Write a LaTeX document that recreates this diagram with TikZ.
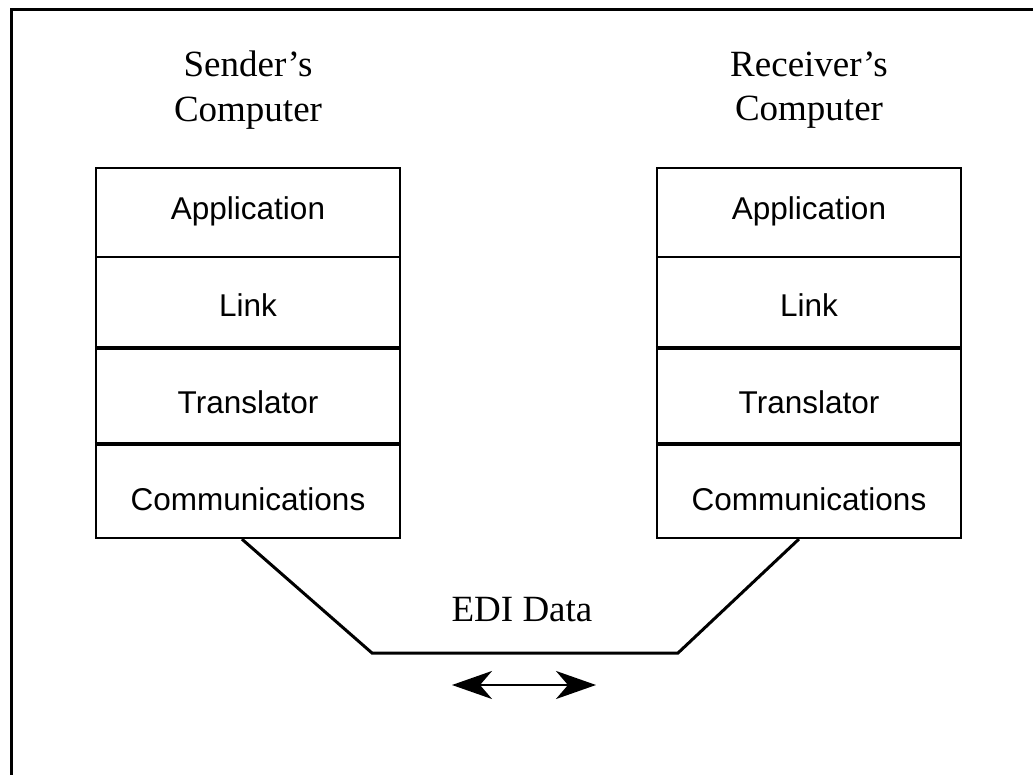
\documentclass[tikz,border=0pt]{standalone}
\usepackage{fontspec}
\setmainfont{Liberation Serif}
\newfontfamily\arialf{Liberation Sans}
\usetikzlibrary{arrows.meta,calc}
\begin{document}
\begin{tikzpicture}[x=1pt,y=-1pt,
  layer/.style={draw,line width=2.2pt,minimum width=304pt,inner sep=0pt,text depth=0pt,font=\arialf\fontsize{31.5}{36}\selectfont},
  title/.style={align=center,font=\fontsize{37}{44.5}\selectfont},
  wire/.style={line width=3pt,line join=miter},
  thick layer/.style={line width=3.5pt}]
\useasboundingbox (0,0) rectangle (1033,775);
\draw[line width=3pt] (11,775) -- (11,10) -- (1033,10);
% left stack
\node[layer,minimum height=89pt,text height=14.6pt] (sapp) at (248,212.5) {Application};
\node[layer,minimum height=90pt,text height=28.6pt] (slink) at (248,302) {Link};
\node[layer,minimum height=96pt,text height=37.6pt] (strans) at (248,395) {Translator};
\node[layer,minimum height=95pt,text height=39.6pt] (scomm) at (248,490.5) {Communications};
\draw[thick layer] (slink.south west) -- (slink.south east);
\draw[thick layer] (strans.south west) -- (strans.south east);
% right stack
\node[layer,minimum height=89pt,text height=14.6pt] (rapp) at (809,212.5) {Application};
\node[layer,minimum height=90pt,text height=28.6pt] (rlink) at (809,302) {Link};
\node[layer,minimum height=96pt,text height=37.6pt] (rtrans) at (809,395) {Translator};
\node[layer,minimum height=95pt,text height=39.6pt] (rcomm) at (809,490.5) {Communications};
\draw[thick layer] (rlink.south west) -- (rlink.south east);
\draw[thick layer] (rtrans.south west) -- (rtrans.south east);
% titles
\node[title] (stitle) at (248,90) {Sender’s\\Computer};
\node[title] (rtitle) at (809,90) {Receiver’s\\Computer};
% connection
\coordinate (l1) at (372,653);
\coordinate (r1) at (678,653);
\draw[wire] ([xshift=147pt]scomm.south west) -- (l1) -- (r1) -- ([xshift=143pt]rcomm.south west);
\node[font=\fontsize{37}{44}\selectfont] (edi) at (522,610) {EDI Data};
\coordinate (a1) at (452,685);
\coordinate (a2) at (596,685);
\draw[line width=2.5pt,{Stealth[length=40pt,width=28pt,inset=12pt]}-{Stealth[length=40pt,width=28pt,inset=12pt]}] (a1) -- (a2);
\end{tikzpicture}
\end{document}
